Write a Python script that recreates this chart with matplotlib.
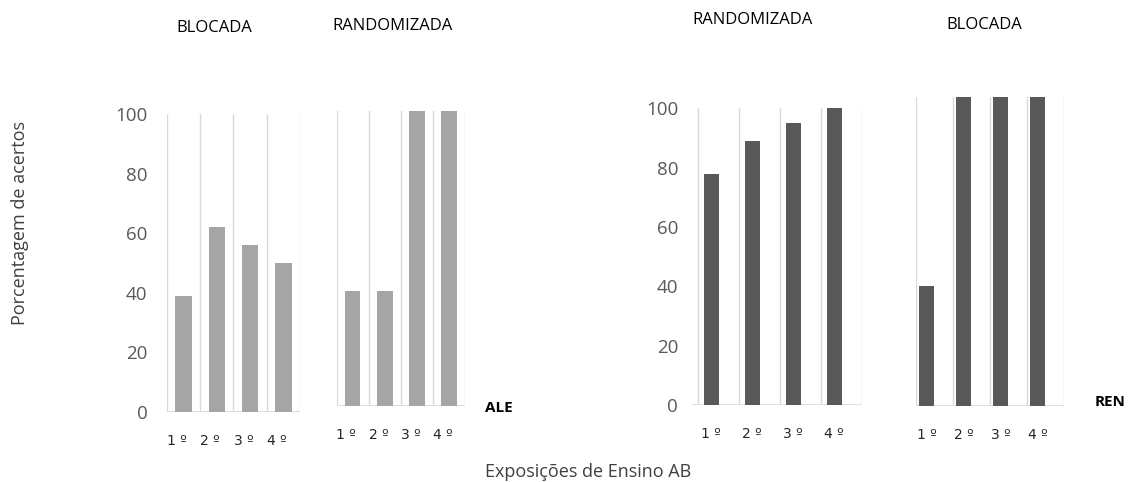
import matplotlib.pyplot as plt

plt.rcParams['font.family'] = ['Open Sans', 'DejaVu Sans']

# data
exposicoes = ['1 º', '2 º', '3 º', '4 º']
ale_blocada = [39, 62, 56, 50]
ale_randomizada = [39, 39, 100, 100]
ren_randomizada = [78, 89, 95, 100]
ren_blocada = [39, 100, 100, 100]

W, H = 1131, 482
fig = plt.figure(figsize=(W / 100, H / 100), dpi=100)

ALE_COLOR = '#a5a5a5'
REN_COLOR = '#595959'
GRID = '#d9d9d9'


def px_axes(x0, x1, y_base, y_top):
    return fig.add_axes([x0 / W, 1 - y_base / H, (x1 - x0) / W, (y_base - y_top) / H])


def panel(ax, vals, color, width, shift, lab_shift, show_y=False, ypad=14,
          left_ext=0.0):
    x = [i + shift for i in range(len(vals))]
    ax.bar(x, vals, width=width, color=color, zorder=3)
    ax.set_xlim(-0.5 - left_ext, 3.5)
    ax.set_ylim(0, 100)
    for g in [-0.5, 0.5, 1.5, 2.5, 3.5]:
        ax.axvline(g, color=GRID, lw=1, zorder=1)
    ax.axhline(0, color=GRID, lw=1.2, zorder=2)
    for s in ax.spines.values():
        s.set_visible(False)
    ax.set_xticks([i + lab_shift for i in range(len(vals))])
    ax.set_xticklabels(exposicoes, fontsize=10, color='#262626',
                       family='DejaVu Sans')
    ax.tick_params(axis='x', length=0, pad=16)
    if show_y:
        ax.set_yticks(range(0, 101, 20))
        ax.tick_params(axis='y', length=0, pad=ypad, labelsize=13.5,
                       labelcolor='#595959')
    else:
        ax.set_yticks([])
    ax.patch.set_alpha(0)


ax1 = px_axes(166.7, 300, 411.7, 114)
panel(ax1, ale_blocada, ALE_COLOR, 0.49, 0.0, -0.2, show_y=True, ypad=14)

ax2 = px_axes(336.7, 465, 406, 110.7)
panel(ax2, ale_randomizada, ALE_COLOR, 0.48, 0.0, -0.2)

ax3 = px_axes(692, 862, 405, 108.3)
panel(ax3, ren_randomizada, REN_COLOR, 0.36, -0.18, -0.18, show_y=True,
      ypad=10, left_ext=0.15)

ax4 = px_axes(916, 1064.3, 406, 97.3)
panel(ax4, ren_blocada, REN_COLOR, 0.42, -0.22, -0.22)

# group titles
for xc, yc, txt in [(214, 28, 'BLOCADA'), (392, 26, 'RANDOMIZADA'),
                    (752, 20, 'RANDOMIZADA'), (984, 25, 'BLOCADA')]:
    fig.text(xc / W, 1 - yc / H, txt, ha='center', va='center', fontsize=12,
             color='#000000')

fig.text(499 / W, 1 - 408 / H, 'ALE', ha='center', va='center', fontsize=11,
         fontweight='bold')
fig.text(1110 / W, 1 - 402 / H, 'REN', ha='center', va='center', fontsize=11,
         fontweight='bold')

fig.text(20 / W, 1 - 223 / H, 'Porcentagem de acertos', rotation=90,
         ha='center', va='center', fontsize=13, color='#404040')
fig.text(588 / W, 1 - 472 / H, 'Exposições de Ensino AB', ha='center',
         va='center', fontsize=13, color='#404040')

fig.savefig('out.png', dpi=100, facecolor='white')
